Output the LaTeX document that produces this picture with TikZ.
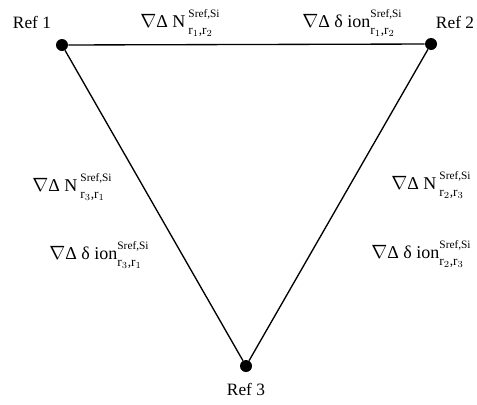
\documentclass[tikz,border=0pt]{standalone}
\usepackage{fontspec}
\setmainfont{Liberation Serif}
\newcommand\supsub[2]{\raisebox{0.2pt}{\begin{tabular}{@{}l@{}}{\fontsize{8.5}{9}\selectfont Sref,Si}\\[-2.5pt]{\fontsize{10}{10}\selectfont r$_{#1}$,r$_{#2}$}\end{tabular}}}
\begin{document}
\begin{tikzpicture}[x=0.75pt,y=-0.75pt,
  dot/.style={circle,fill=black,inner sep=0pt,minimum size=9pt},
  reflabel/.style={font=\fontsize{13}{15}\selectfont,inner sep=1pt},
  lab/.style={font=\fontsize{13.5}{15}\selectfont,inner sep=1pt},
  edge/.style={draw=black,line width=1pt}]
\useasboundingbox (0,0) rectangle (477,404);
\node[dot] (r1) at (62,45) {};
\node[dot] (r2) at (431,44) {};
\node[dot] (r3) at (246,366) {};
\draw[edge] (r1) -- (r2) -- (r3) -- (r1);
\node[reflabel] (l1) at (32,22) {Ref 1};
\node[reflabel] (l2) at (455,22) {Ref 2};
\node[reflabel] (l3) at (246,389) {Ref 3};
\node[lab] (t1) at (180,22) {$\nabla$Δ N\,\supsub{1}{2}};
\node[lab] (t2) at (352,22) {$\nabla$Δ δ ion\supsub{1}{2}};
\node[lab] (a1) at (72,186) {$\nabla$Δ N\,\supsub{3}{1}};
\node[lab] (a2) at (99,254) {$\nabla$Δ δ ion\supsub{3}{1}};
\node[lab] (b1) at (431,184) {$\nabla$Δ N\,\supsub{2}{3}};
\node[lab] (b2) at (421,253) {$\nabla$Δ δ ion\supsub{2}{3}};
\end{tikzpicture}
\end{document}
